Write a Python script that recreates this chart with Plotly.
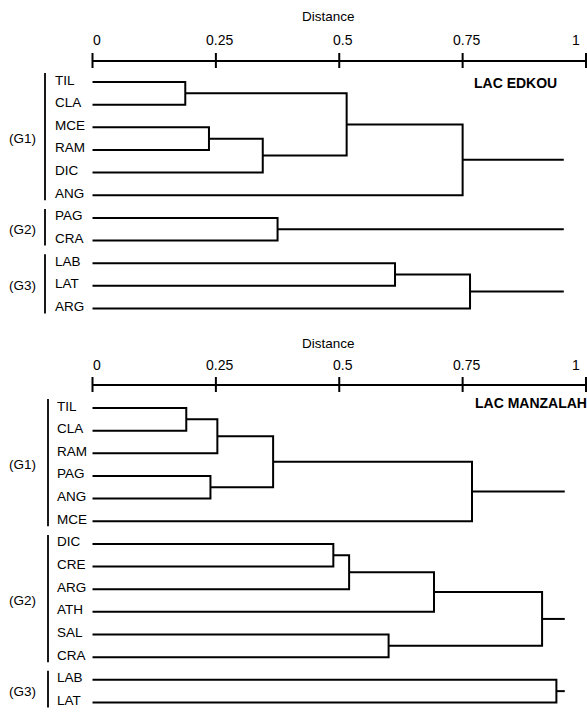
import plotly.graph_objects as go

W, H = 587, 716
X0, XU = 92.5, 493.5          # pixel of distance 0, pixels per unit of distance
ROW = 22.65                   # pixel spacing between leaves
FONT = "Liberation Sans, Arial, Helvetica, sans-serif"

# ---------------- data ----------------
tick_vals = [0, 0.25, 0.5, 0.75, 1]
tick_text = ["0", "0.25", "0.5", "0.75", "1"]

edkou_leaves = ["TIL", "CLA", "MCE", "RAM", "DIC", "ANG", "PAG", "CRA", "LAB", "LAT", "ARG"]
edkou_groups = ["(G1)", "(G2)", "(G3)"]
edkou_group_sizes = [6, 2, 3]
edkou_merges = [            # (child a, child b, distance) ; "mK" = K-th merge
    ("TIL", "CLA", 0.188),
    ("MCE", "RAM", 0.236),
    ("m1", "DIC", 0.345),
    ("m0", "m2", 0.515),
    ("m3", "ANG", 0.750),
    ("PAG", "CRA", 0.375),
    ("LAB", "LAT", 0.613),
    ("m6", "ARG", 0.765),
]
edkou_tail = 0.955

manzalah_leaves = ["TIL", "CLA", "RAM", "PAG", "ANG", "MCE",
                   "DIC", "CRE", "ARG", "ATH", "SAL", "CRA", "LAB", "LAT"]
manzalah_groups = ["(G1)", "(G2)", "(G3)"]
manzalah_group_sizes = [6, 6, 2]
manzalah_merges = [
    ("TIL", "CLA", 0.190),
    ("m0", "RAM", 0.253),
    ("PAG", "ANG", 0.239),
    ("m1", "m2", 0.366),
    ("m3", "MCE", 0.769),
    ("DIC", "CRE", 0.488),
    ("m5", "ARG", 0.520),
    ("m6", "ATH", 0.692),
    ("SAL", "CRA", 0.600),
    ("m7", "m8", 0.911),
    ("LAB", "LAT", 0.940),
]
manzalah_tail = 0.957

# ---------------- layout constants per panel (pixels) ----------------
panels = [
    dict(name="LAC EDKOU", leaves=edkou_leaves, groups=edkou_groups, sizes=edkou_group_sizes,
         merges=edkou_merges, tail=edkou_tail,
         first=82, axis=61, ticklab=40, dist=16, labx=53, brx=45, title_x=472, title_y=83),
    dict(name="LAC MANZALAH", leaves=manzalah_leaves, groups=manzalah_groups, sizes=manzalah_group_sizes,
         merges=manzalah_merges, tail=manzalah_tail,
         first=408, axis=385, ticklab=365, dist=343, labx=55, brx=48, title_x=473, title_y=403),
]


def px2x(px):
    return (px - X0) / XU


fig = go.Figure()
annotations = []
blk = "black"

for p in panels:
    pos = {}
    for i, leaf in enumerate(p["leaves"]):
        pos[leaf] = (0.0, p["first"] + i * ROW)
    xs, ys = [], []
    used = set()
    for k, (a, b, h) in enumerate(p["merges"]):
        xa, ya = pos[a]
        xb, yb = pos[b]
        xs += [xa, h, h, xb, None]
        ys += [ya, ya, yb, yb, None]
        pos["m%d" % k] = (h, (ya + yb) / 2)
        used.add(a)
        used.add(b)
    for k in range(len(p["merges"])):
        key = "m%d" % k
        if key not in used:
            xr, yr = pos[key]
            xs += [xr, p["tail"], None]
            ys += [yr, yr, None]
    fig.add_trace(go.Scatter(x=xs, y=ys, mode="lines", line=dict(color=blk, width=2),
                             hoverinfo="skip", showlegend=False))

    # distance axis
    ax_x = [tick_vals[0], tick_vals[-1], None]
    ax_y = [p["axis"], p["axis"], None]
    for v in tick_vals:
        ax_x += [v, v, None]
        ax_y += [p["axis"] - 8, p["axis"] + 7, None]
    fig.add_trace(go.Scatter(x=ax_x, y=ax_y, mode="lines", line=dict(color=blk, width=2),
                             hoverinfo="skip", showlegend=False))
    for j, (v, t) in enumerate(zip(tick_vals, tick_text)):
        last = j == len(tick_vals) - 1
        annotations.append(dict(x=v, y=p["ticklab"], text=t, showarrow=False,
                                xanchor="right" if last else "center", yanchor="middle",
                                xshift=-4 if last else 4,
                                font=dict(size=14, color=blk, family=FONT)))
    annotations.append(dict(x=px2x(328), y=p["dist"], text="Distance", showarrow=False,
                            xanchor="center", yanchor="middle",
                            font=dict(size=13.5, color=blk, family=FONT)))
    # panel title
    annotations.append(dict(x=px2x(p["title_x"]), y=p["title_y"], text="<b>%s</b>" % p["name"],
                            showarrow=False, xanchor="left", yanchor="middle",
                            font=dict(size=14, color=blk, family=FONT)))
    # leaf labels
    for i, leaf in enumerate(p["leaves"]):
        annotations.append(dict(x=px2x(p["labx"]), y=p["first"] + i * ROW, text=leaf,
                                showarrow=False, xanchor="left", yanchor="middle", yshift=2,
                                font=dict(size=13.5, color=blk, family=FONT)))
    # group brackets and labels
    bx, by = [], []
    start = 0
    for g, n in zip(p["groups"], p["sizes"]):
        y1 = p["first"] + start * ROW
        y2 = p["first"] + (start + n - 1) * ROW
        bx += [px2x(p["brx"]), px2x(p["brx"]), None]
        by += [y1 - 9, min(y2 + 5, H), None]
        annotations.append(dict(x=px2x(22), y=(y1 + y2) / 2, text=g, showarrow=False,
                                xanchor="center", yanchor="middle",
                                font=dict(size=13.5, color=blk, family=FONT)))
        start += n
    fig.add_trace(go.Scatter(x=bx, y=by, mode="lines", line=dict(color=blk, width=1.8),
                             hoverinfo="skip", showlegend=False))

fig.update_layout(
    width=W, height=H,
    margin=dict(l=0, r=0, t=0, b=0),
    paper_bgcolor="white", plot_bgcolor="white",
    xaxis=dict(range=[px2x(0), px2x(W)], visible=False, fixedrange=True),
    yaxis=dict(range=[H, 0], visible=False, fixedrange=True),
    annotations=annotations,
    showlegend=False,
)

fig.write_html("out.html")
